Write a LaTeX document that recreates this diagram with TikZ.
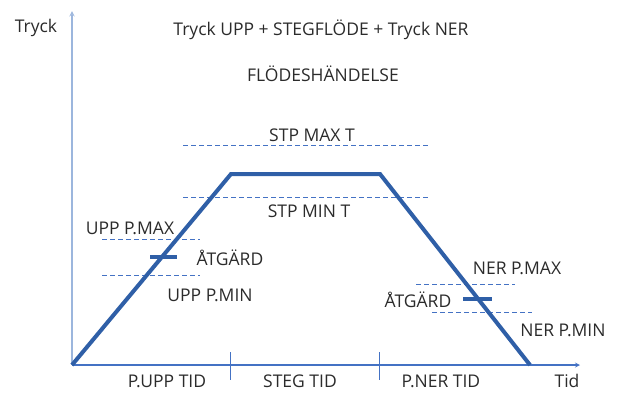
\documentclass[tikz,border=0pt]{standalone}
\usepackage{fontspec}
\setmainfont{Open Sans}
\usepackage{tikz}
\usetikzlibrary{arrows}
\definecolor{curveblue}{HTML}{2F5FA7}
\definecolor{axisblue}{HTML}{4472C4}
\definecolor{axislight}{HTML}{9CB6DD}
\definecolor{textgray}{HTML}{2B2B2B}
\tikzstyle{label} = [draw=none, inner sep=0pt, text=textgray, font=\fontsize{17.5}{19}\selectfont]
\tikzstyle{curve} = [line width=4pt, draw=curveblue, line join=miter]
\tikzstyle{limit} = [thin, dashed, draw=axisblue, dash pattern=on 5pt off 3pt]
\tikzstyle{marker} = [line width=3.5pt, draw=curveblue]
\tikzstyle{arrow} = [thick,->,>=stealth]
\tikzstyle{tick} = [thin, draw=axisblue]

\begin{document}
\begin{tikzpicture}[x=1pt, y=-1pt]
		\useasboundingbox (0,0) rectangle (617,392);
		% axes
		\coordinate (o) at (72,365);
		\coordinate (ytop) at (72,11);
		\coordinate (xend) at (580,365);
		\draw [arrow, draw=axislight, line width=1.4pt] (o) -- (ytop);
		\draw [arrow, draw=axisblue, line width=1.2pt] (o) -- (xend);
		\coordinate (t1a) at (230,352);
		\coordinate (t1b) at (230,380);
		\coordinate (t2a) at (379,352);
		\coordinate (t2b) at (379,380);
		\draw [tick] (t1a) -- (t1b);
		\draw [tick] (t2a) -- (t2b);

		% texts
		\node (ylabel) [label] at (36,28) {Tryck};
		\node (title) [label] at (321,30) {Tryck UPP + STEGFLÖDE + Tryck NER};
		\node (event) [label] at (323,74) {FLÖDESHÄNDELSE};
		\node (stpmax) [label] at (312,135) {STP MAX T};
		\node (stpmin) [label] at (309,211) {STP MIN T};
		\node (uppmax) [label] at (130,228) {UPP P.MAX};
		\node (uppact) [label] at (230,258) {ÅTGÄRD};
		\node (uppmin) [label] at (210,295) {UPP P.MIN};
		\node (nermax) [label] at (517,268) {NER P.MAX};
		\node (neract) [label] at (418,300) {ÅTGÄRD};
		\node (nermin) [label] at (563,330) {NER P.MIN};
		\node (tupp) [label] at (167,381) {P.UPP TID};
		\node (tsteg) [label] at (300,381) {STEG TID};
		\node (tner) [label] at (441,381) {P.NER TID};
		\node (tid) [label] at (567,381) {Tid};

		% limits
		\coordinate (smaxa) at (183,145);
		\coordinate (smaxb) at (429,145);
		\coordinate (smina) at (183,197);
		\coordinate (sminb) at (429,197);
		\coordinate (umaxa) at (102,239);
		\coordinate (umaxb) at (200,239);
		\coordinate (umina) at (102,275);
		\coordinate (uminb) at (200,275);
		\coordinate (nmaxa) at (416,284);
		\coordinate (nmaxb) at (515,284);
		\coordinate (nmina) at (432,312);
		\coordinate (nminb) at (532,312);
		\draw [limit] (smaxa) -- (smaxb);
		\draw [limit] (smina) -- (sminb);
		\draw [limit] (umaxa) -- (umaxb);
		\draw [limit] (umina) -- (uminb);
		\draw [limit] (nmaxa) -- (nmaxb);
		\draw [limit] (nmina) -- (nminb);

		% pressure curve
		\coordinate (tl) at (231,174);
		\coordinate (tr) at (380,174);
		\coordinate (br) at (530,365);
		\draw [curve] (o) -- (tl) -- (tr) -- (br);
		\coordinate (uma) at (150,257);
		\coordinate (umb) at (177,257);
		\coordinate (nma) at (463,299);
		\coordinate (nmb) at (492,299);
		\draw [marker] (uma) -- (umb);
		\draw [marker] (nma) -- (nmb);
	\end{tikzpicture}
\end{document}
